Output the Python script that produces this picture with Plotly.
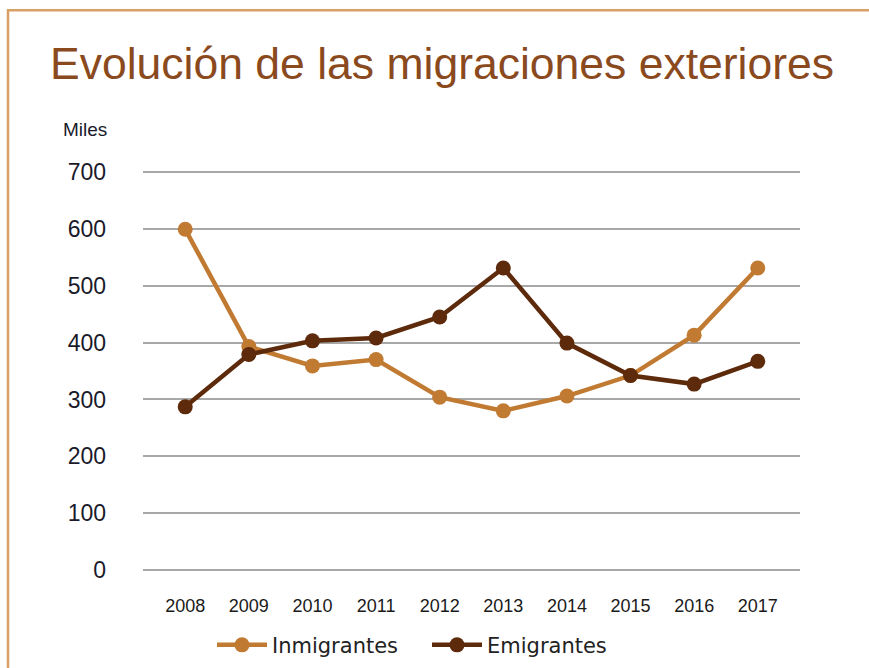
import plotly.graph_objects as go

years = ["2008", "2009", "2010", "2011", "2012", "2013", "2014", "2015", "2016", "2017"]
inmigrantes = [599, 393, 359, 370, 304, 280, 306, 342, 413, 531]
emigrantes = [287, 379, 403, 408, 445, 531, 399, 342, 327, 367]
y_ticks = [0, 100, 200, 300, 400, 500, 600, 700]

C_IN = "#C17A32"
C_EM = "#5E2A0C"

W, H = 869, 668
# y=700 at 172px, y=0 at 570px; axis range padded so edge gridlines are drawn
pad = 5
scale = 398 / 700
T = 172 - pad * scale
B = H - (570 + pad * scale)
L, R = 143, 69
pw, ph = W - L - R, H - T - B

def px_x(x):
    return (x - L) / pw

def px_y(y):
    return (H - B - y) / ph

fig = go.Figure()
fig.add_trace(go.Scatter(x=years, y=inmigrantes, name="Inmigrantes", mode="lines+markers",
                         line=dict(color=C_IN, width=4.5), marker=dict(color=C_IN, size=15)))
fig.add_trace(go.Scatter(x=years, y=emigrantes, name="Emigrantes", mode="lines+markers",
                         line=dict(color=C_EM, width=4.5), marker=dict(color=C_EM, size=15)))

border = "#D9A066"
fig.add_shape(type="line", xref="paper", yref="paper", x0=px_x(7), x1=px_x(875), y0=px_y(10.5), y1=px_y(10.5),
              line=dict(color=border, width=2.5))
fig.add_shape(type="line", xref="paper", yref="paper", x0=px_x(8), x1=px_x(8), y0=px_y(9.5), y1=px_y(680),
              line=dict(color=border, width=2.5))

fig.add_annotation(text="Evolución de las migraciones exteriores", xref="paper", yref="paper",
                   x=px_x(48), y=px_y(64), xanchor="left", yanchor="middle", showarrow=False,
                   font=dict(family="Liberation Sans", size=44.5, color="#8A4A1E"))
fig.add_annotation(text="Miles", xref="paper", yref="paper",
                   x=px_x(61), y=px_y(130), xanchor="left", yanchor="middle", showarrow=False,
                   font=dict(family="Liberation Sans", size=19, color="#1A1A2A"))

fig.update_layout(
    width=W, height=H,
    margin=dict(l=L, r=R, t=T, b=B, autoexpand=False),
    paper_bgcolor="white", plot_bgcolor="white",
    showlegend=True,
    legend=dict(orientation="h", x=px_x(427), xanchor="center", y=px_y(645), yanchor="middle",
                font=dict(family="DejaVu Sans", size=21, color="#222222"),
                itemwidth=50, entrywidth=150, entrywidthmode="pixels", tracegroupgap=0),
    font=dict(family="Liberation Sans"),
)
fig.update_xaxes(type="category", showgrid=False, showline=False, zeroline=False,
                 tickfont=dict(size=18, color="#1A1A1A"), ticks="", ticklabelstandoff=20)
fig.update_yaxes(range=[-pad, 700 + pad], tickvals=y_ticks, showgrid=True, gridcolor="#A8A8A8", gridwidth=1.5,
                 zeroline=False, showline=False, tickfont=dict(size=23, color="#1A1A2A"),
                 ticks="", ticklabelstandoff=36)

fig.write_html("out.html", config={"displayModeBar": False},
               post_script="document.body.style.margin='0';document.body.style.overflow='hidden';")
